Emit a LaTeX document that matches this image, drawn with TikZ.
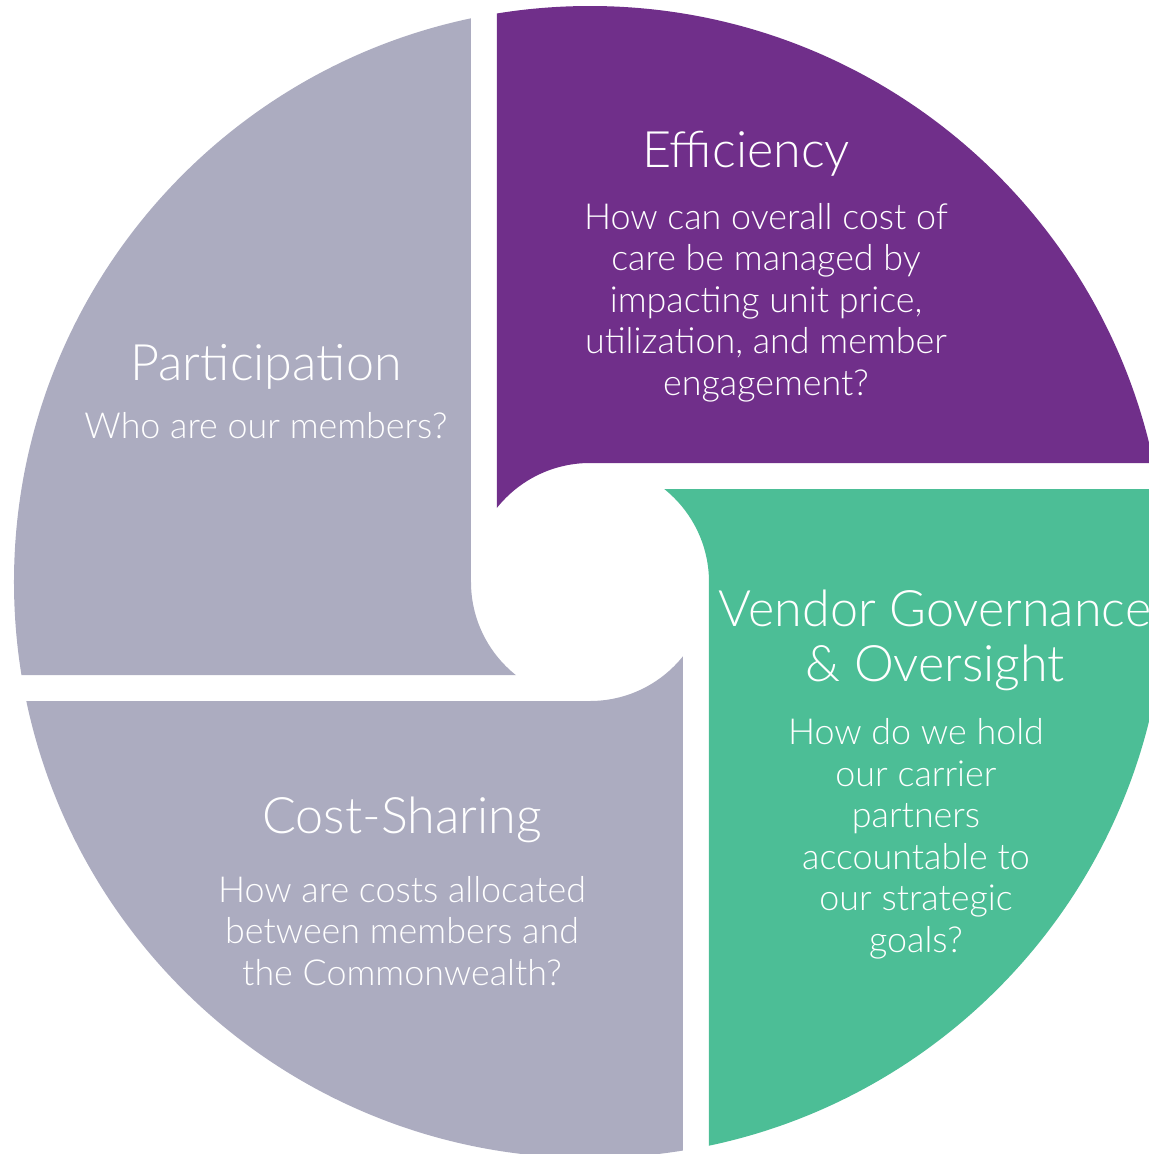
\documentclass[tikz,border=0pt]{standalone}
\usepackage{fontspec}
\setmainfont{Lato}[UprightFont=* Light]
\usepackage{tikz}
\definecolor{wedgegray}{RGB}{172,172,192}
\definecolor{wedgepurple}{RGB}{112,47,138}
\definecolor{wedgegreen}{RGB}{76,190,150}

\begin{document}
\begin{tikzpicture}[
    headline/.style={text=white, font=\fontsize{14.3}{15.6}\selectfont, align=center, inner sep=0pt, anchor=base},
    question/.style={text=white, font=\fontsize{10.2}{11.8}\selectfont, align=center, inner sep=0pt, anchor=base}
  ]
  \clip (-5.90,-5.72) rectangle (5.59,5.82);
  % ring cut in four, each wedge turned a quarter further round
  \foreach \col [count=\i from 0] in {wedgepurple, wedgegreen, wedgegray, wedgegray} {
    \begin{scope}[rotate=-90*\i]
      \clip (-0.93,7) -- (-0.93,0) -- (0,0) -- (0,1.19) -- (7,1.19) -- (7,7) -- cycle;
      \fill[\col, even odd rule] (0,0) circle (5.76) (0,0) circle (1.19);
    \end{scope}
  }
  % labels (base = baseline of the last line)
  \node[headline] (effT) at (1.56,4.15) {Efficiency};
  \node[question] (effQ) at (1.76,1.87) {How can overall cost of\\care be managed by\\impacting unit price,\\utilization, and member\\engagement?};
  \node[headline] (parT) at (-3.24,2.02) {Participation};
  \node[question] (parQ) at (-3.24,1.44) {Who are our members?};
  \node[headline] (venT) at (3.45,-0.99) {Vendor Governance\\\& Oversight};
  \node[question] (venQ) at (3.26,-3.70) {How do we hold\\our carrier\\partners\\accountable to\\our strategic\\goals?};
  \node[headline] (cosT) at (-1.88,-2.51) {Cost-Sharing};
  \node[question] (cosQ) at (-1.88,-4.03) {How are costs allocated\\between members and\\the Commonwealth?};
\end{tikzpicture}
\end{document}
